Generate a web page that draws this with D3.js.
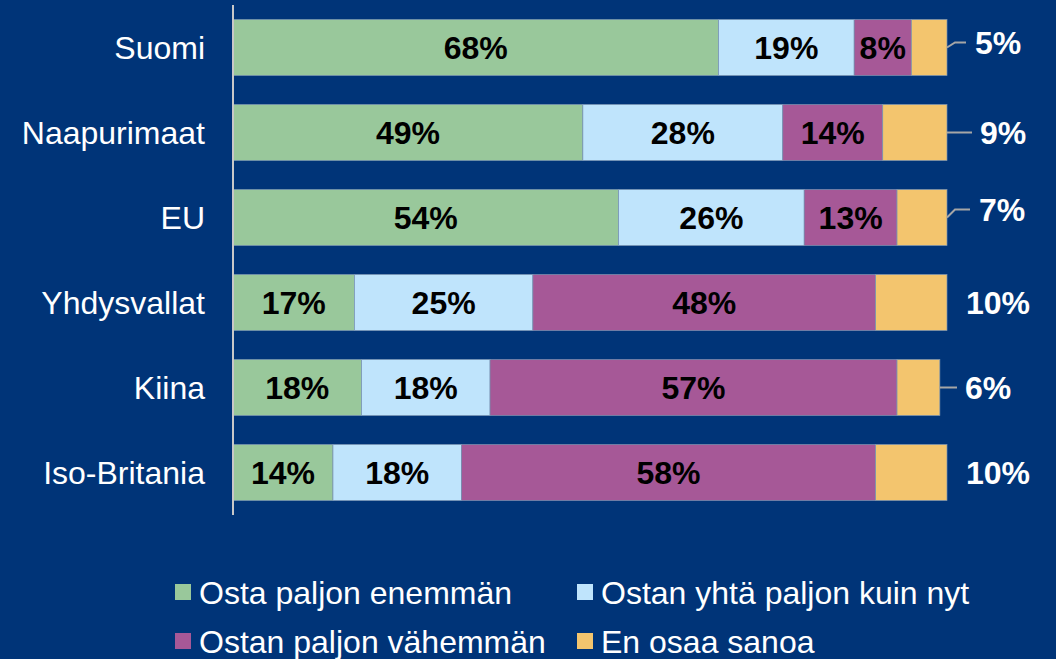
<!DOCTYPE html>
<html>
<head>
<meta charset="utf-8">
<script src="https://cdn.jsdelivr.net/npm/d3@7"></script>
<style>
  html, body { margin: 0; padding: 0; background: #003478; }
  svg { display: block; font-family: Arial, "Liberation Sans", sans-serif; }
</style>
</head>
<body>
<div id="chart"></div>
<script>
// data
const countries = ["Suomi", "Naapurimaat", "EU", "Yhdysvallat", "Kiina", "Iso-Britania"];
const seriesNames = ["Osta paljon enemmän", "Ostan yhtä paljon kuin nyt", "Ostan paljon vähemmän", "En osaa sanoa"];
const enemman  = [68, 49, 54, 17, 18, 14];
const yhta     = [19, 28, 26, 25, 18, 18];
const vahemman = [8, 14, 13, 48, 57, 58];
const eos      = [5, 9, 7, 10, 6, 10];
const seriesColors = ["#99c89b", "#bfe4fc", "#a65897", "#f3c56e"];

// layout for the outside labels (leader end dx, rise)
const calloutDx = [28, 33, 32, 19, 18, 19];
const leaderRise = [5, 0, 8, null, 0, null];

const W = 1056, H = 659;
const svg = d3.select("#chart").append("svg")
    .attr("width", W).attr("height", H);

svg.append("rect").attr("width", W).attr("height", H).attr("fill", "#003478");

const x = d3.scaleLinear().domain([0, 100]).range([233, 947]);
const y = d3.scaleBand().domain(countries).range([5, 515]).paddingInner(0.34).paddingOuter(0.17);

const seriesVals = [enemman, yhta, vahemman, eos];
const rows = countries.map((c, i) => {
    const r = { country: c };
    seriesNames.forEach((s, k) => r[s] = seriesVals[k][i]);
    return r;
});
const stacked = d3.stack().keys(seriesNames)(rows);

// bars
const layers = svg.selectAll(".layer")
    .data(stacked)
    .join("g")
    .attr("class", "layer")
    .attr("fill", (d, k) => seriesColors[k]);

layers.selectAll("rect")
    .data(d => d)
    .join("rect")
    .attr("x", d => x(d[0]))
    .attr("y", d => y(d.data.country))
    .attr("width", d => x(d[1]) - x(d[0]))
    .attr("height", y.bandwidth())
    .attr("stroke", "#7893b3")
    .attr("stroke-width", 0.7);

// labels inside the first three segments
stacked.slice(0, 3).forEach(layer => {
    svg.append("g").selectAll("text")
        .data(layer)
        .join("text")
        .attr("x", d => (x(d[0]) + x(d[1])) / 2)
        .attr("y", d => y(d.data.country) + y.bandwidth() / 2)
        .attr("dy", "0.36em")
        .attr("text-anchor", "middle")
        .attr("font-size", "32px")
        .attr("font-weight", "bold")
        .attr("fill", "#000")
        .text(d => (d[1] - d[0]) + "%");
});

// outside labels with leader lines for the last segment
const last = stacked[3];
last.forEach((d, i) => {
    const yc = y(d.data.country) + y.bandwidth() / 2;
    const x0 = x(d[1]);
    const lx = x(100) + calloutDx[i];
    const rise = leaderRise[i];
    if (rise !== null) {
        const pts = rise > 0
            ? [[x0, yc], [x0 + 8, yc - rise], [lx - 9, yc - rise]]
            : [[x0, yc], [lx - 8, yc]];
        svg.append("path")
            .attr("d", d3.line()(pts))
            .attr("fill", "none")
            .attr("stroke", "#a6a6a6")
            .attr("stroke-width", 2);
    }
    svg.append("text")
        .attr("x", lx)
        .attr("y", yc - (rise || 0))
        .attr("dy", "0.36em")
        .attr("font-size", "32px")
        .attr("font-weight", "bold")
        .attr("fill", "#fff")
        .text((d[1] - d[0]) + "%");
});

// y axis
svg.append("line")
    .attr("x1", 233).attr("x2", 233)
    .attr("y1", 5).attr("y2", 515)
    .attr("stroke", "#c8c8c8")
    .attr("stroke-width", 2);

svg.append("g").selectAll("text")
    .data(countries)
    .join("text")
    .attr("x", 205)
    .attr("y", d => y(d) + y.bandwidth() / 2)
    .attr("dy", "0.36em")
    .attr("text-anchor", "end")
    .attr("font-size", "32px")
    .attr("fill", "#fff")
    .text(d => d);

// legend
const legendPos = [[175, 592], [577, 592], [175, 641], [577, 641]];
const legend = svg.append("g").selectAll("g")
    .data(seriesNames)
    .join("g")
    .attr("transform", (d, k) => `translate(${legendPos[k][0]}, ${legendPos[k][1]})`);

legend.append("rect")
    .attr("x", 0).attr("y", -8)
    .attr("width", 16).attr("height", 16)
    .attr("fill", (d, k) => seriesColors[k]);

legend.append("text")
    .attr("x", 24)
    .attr("y", 0)
    .attr("dy", "0.36em")
    .attr("font-size", "32px")
    .attr("fill", "#fff")
    .text(d => d);
</script>
</body>
</html>
